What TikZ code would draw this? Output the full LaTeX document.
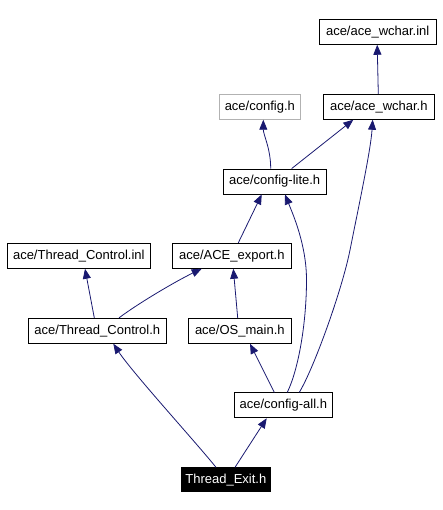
\documentclass[tikz,border=0pt]{standalone}
\usepackage{fontspec}
\setmainfont{Liberation Sans}
\usetikzlibrary{arrows.meta}
\definecolor{edgeblue}{HTML}{191970}
\tikzset{
  filebox/.style={draw=black, line width=0.9pt, inner sep=0pt, minimum height=25pt, font=\fontsize{13}{15}\selectfont, fill=white},
  grayfile/.style={filebox, draw=gray!60},
  rootfile/.style={filebox, fill=black, text=white},
  dep/.style={draw=edgeblue, line width=0.8pt, -{Triangle[length=10pt,width=8pt]}}
}
\begin{document}
\begin{tikzpicture}[x=1pt,y=-1pt]
\useasboundingbox (0,0) rectangle (443,510);
\node[filebox, minimum width=116.7pt] (wcharinl) at (377.7,31.8) {ace/ace\_wchar.inl};
\node[grayfile, minimum width=81pt] (config) at (259.8,106.8) {ace/config.h};
\node[filebox, minimum width=111pt] (wchar) at (378.8,106.8) {ace/ace\_wchar.h};
\node[filebox, minimum width=102.7pt] (lite) at (274.7,181.5) {ace/config-lite.h};
\node[filebox, minimum width=143pt] (tcinl) at (78.8,255.8) {ace/Thread\_Control.inl};
\node[filebox, minimum width=119pt] (export) at (231.8,255.8) {ace/ACE\_export.h};
\node[filebox, minimum width=138pt] (tch) at (97.3,330.8) {ace/Thread\_Control.h};
\node[filebox, minimum width=103pt] (osmain) at (239.8,330.8) {ace/OS\_main.h};
\node[filebox, minimum width=98pt] (all) at (283.3,405.3) {ace/config-all.h};
\node[rootfile, minimum width=89.7pt, minimum height=24pt] (exit) at (225.8,479.8) {Thread\_Exit.h};

\draw[dep] ([xshift=-0.5pt]wchar.north) -- ([xshift=-0.5pt]wcharinl.south);
\draw[dep] ([xshift=-4pt]lite.north) .. controls +(0,-20) and +(0,15) .. ([xshift=3.5pt]config.south);
\draw[dep] ([xshift=17pt]lite.north) -- ([xshift=-25.5pt]wchar.south);
\draw[dep] ([xshift=6.5pt]export.north) -- ([xshift=-13pt]lite.south);
\draw[dep] ([xshift=4pt]all.north) .. controls +(12,-25) and +(0,40) .. (306.5,280) .. controls +(0,-35) and +(8,20) .. ([xshift=10.3pt]lite.south);
\draw[dep] ([xshift=16pt]all.north) .. controls +(15,-25) and +(-8,40) .. (350,250) .. controls +(10,-50) and +(-2,30) .. ([xshift=-6.1pt]wchar.south);
\draw[dep] ([xshift=-3pt]tch.north) -- ([xshift=6.2pt]tcinl.south);
\draw[dep] ([xshift=21.7pt]tch.north) .. controls +(20,-15) and +(-25,12) .. ([xshift=-30.1pt]export.south);
\draw[dep] ([xshift=-2.1pt]osmain.north) -- ([xshift=1.5pt]export.south);
\draw[dep] ([xshift=-9pt]all.north) -- ([xshift=10.2pt]osmain.south);
\draw[dep] ([xshift=-9.8pt]exit.north) .. controls +(-20,-25) and +(20,30) .. ([xshift=16pt]tch.south);
\draw[dep] ([xshift=9.2pt]exit.north) -- ([xshift=-16.6pt]all.south);
\end{tikzpicture}
\end{document}
